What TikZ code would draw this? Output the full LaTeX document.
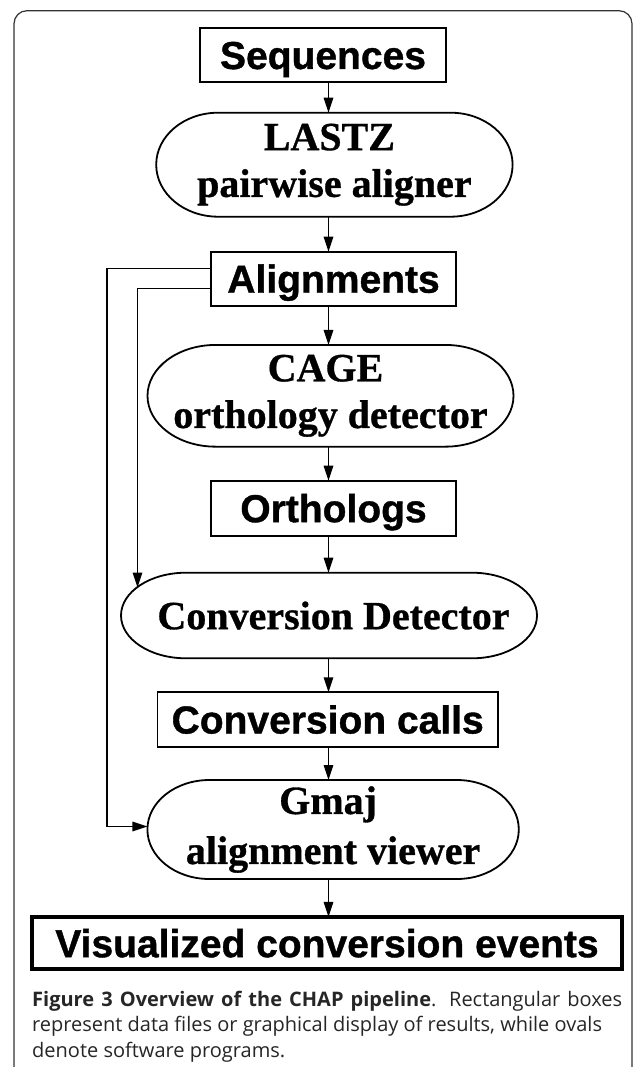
\documentclass[tikz,border=0pt]{standalone}
\usepackage{fontspec}
\setmainfont{Liberation Serif}
\newfontfamily\ovalfont[FakeBold=0.8]{Liberation Serif Bold}
\newfontfamily\boxfont[FakeBold=1]{Liberation Sans Bold}
\newfontfamily\capfont{Open Sans}
\usetikzlibrary{arrows.meta,calc}
\newcommand\ovalpath[2]{%
  \draw[ovalline] let \p1=(#1.north east), \p2=(#1.south west), \n1={(\y1-\y2)/2} in
    (\x2+#2pt,\y1) -- (\x1-#2pt,\y1)
    arc[start angle=90,end angle=-90,x radius=#2pt,y radius=\n1]
    -- (\x2+#2pt,\y2)
    arc[start angle=270,end angle=90,x radius=#2pt,y radius=\n1] -- cycle;}
\begin{document}
\begin{tikzpicture}[x=1pt,y=1pt,
  databox/.style={draw=black, line width=1.8pt, inner sep=0pt, outer sep=0pt,
    font=\boxfont\fontsize{39}{39}\selectfont, text height=28pt, text depth=0pt},
  ovalnode/.style={inner sep=0pt, outer sep=0pt, align=center,
    font=\ovalfont\fontsize{40}{46.7}\selectfont},
  ovalline/.style={draw=black, line width=1.8pt},
  conn/.style={draw=black, line width=1.5pt},
  arr/.style={conn, -{Triangle[length=15pt,width=9.5pt]}},
  frame/.style={draw=black!80, line width=1.2pt, rounded corners=13pt}]
\path[use as bounding box] (0,0) rectangle (633,-1067);
\clip (0,0) rectangle (633,-1067);
\fill[white] (0,0) rectangle (633,-1067);
\draw[frame] (14,-10.7) rectangle (632,-1100);
\coordinate (colx) at (328.5,0);

\node[databox, minimum width=246pt, minimum height=54.6pt] (seq) at (323,-55) {Sequences};
\node[ovalnode, minimum width=356.4pt, minimum height=104pt] (lastz) at (334.4,-164.7) {LASTZ\kern10pt\\pairwise aligner};
\ovalpath{lastz}{62}
\node[databox, minimum width=245.5pt, minimum height=54pt] (al) at (333.5,-278.7) {Alignments};
\node[ovalnode, minimum width=366pt, minimum height=101.7pt] (cage) at (330.5,-395.8) {CAGE\kern10pt\\orthology detector};
\ovalpath{cage}{68}
\node[databox, minimum width=245.5pt, minimum height=55pt] (orth) at (333.5,-508.2) {Orthologs};
\node[ovalnode, minimum width=416pt, minimum height=85.6pt] (cd) at (329,-615.5) {\kern9pt Conversion Detector};
\ovalpath{cd}{65}
\node[databox, minimum width=340.3pt, minimum height=54.4pt] (cc) at (327.7,-719.5) {Conversion calls};
\node[ovalnode, font=\ovalfont\fontsize{40}{50}\selectfont, minimum width=371.4pt, minimum height=99pt] (gm) at (333.1,-829.5) {Gmaj\kern10pt\\alignment viewer};
\ovalpath{gm}{62}
\node[databox, line width=4pt, minimum width=589.4pt, minimum height=52.5pt] (vis) at (327,-943.2) {Visualized conversion events};

\draw[arr] (seq.south -| colx) -- (lastz.north -| colx);
\draw[arr] (lastz.south -| colx) -- (al.north -| colx);
\draw[arr] (al.south -| colx) -- (cage.north -| colx);
\draw[arr] (cage.south -| colx) -- (orth.north -| colx);
\draw[arr] (orth.south -| colx) -- (cd.north -| colx);
\draw[arr] (cd.south -| colx) -- (cc.north -| colx);
\draw[arr] (cc.south -| colx) -- (gm.north -| colx);
\draw[arr] (gm.south -| colx) -- (vis.north -| colx);

\coordinate (cdin) at (137.5,-587.5);
\draw[arr] ([yshift=-9.6pt]al.west) -| (cdin);
\draw[arr] ([yshift=10.4pt]al.west) -- ++(-103.7,0) |- ([yshift=3pt]gm.west);

\node[anchor=north west, inner sep=0pt, align=left, text=black!85,
  font=\capfont\fontsize{20}{25.5}\selectfont] (cap) at (32,-990.5)
  {\makebox[590pt][s]{\bfseries Figure 3 Overview of the CHAP pipeline\mdseries. Rectangular boxes}\\
   represent data files or graphical display of results, while ovals\\
   denote software programs.};
\end{tikzpicture}
\end{document}
